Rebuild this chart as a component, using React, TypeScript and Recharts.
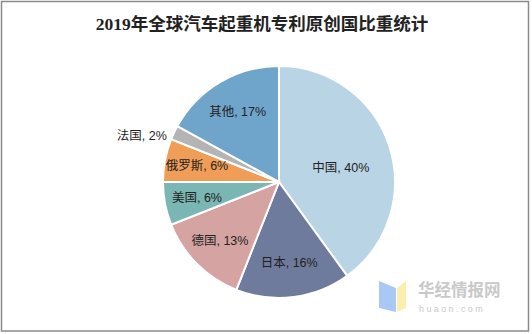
import React from 'react';
import { PieChart, Pie, Cell } from 'recharts';

const categories = ['中国', '日本', '德国', '美国', '俄罗斯', '法国', '其他'];
const shares = [40, 16, 13, 6, 6, 2, 17];
const colors = ['#b9d4e5', '#6f7b9d', '#d6a3a3', '#7ab6b3', '#f09d57', '#b4b4b4', '#6fa5cb'];
const title = '2019年全球汽车起重机专利原创国比重统计';

const data = categories.map((name, i) => ({ name, value: shares[i] }));

const RAD = Math.PI / 180;
const FONT = '"Liberation Sans", "Noto Sans CJK SC", sans-serif';

const renderLabel = (props: any) => {
  const { cx, cy, midAngle, outerRadius, name, value } = props;
  const text = `${name}, ${value}%`;
  if (value < 3) {
    const r = outerRadius + 8;
    const x = cx + r * Math.cos(-midAngle * RAD);
    const y = cy + r * Math.sin(-midAngle * RAD);
    return (
      <text x={x} y={y + 7} textAnchor="end" dominantBaseline="central" fontSize={12.5} fill="#222" fontFamily={FONT}>
        {text}
      </text>
    );
  }
  const f = value > 30 ? 0.56 : value >= 16 ? 0.7 : 0.72;
  const r = outerRadius * f;
  const x = cx + r * Math.cos(-midAngle * RAD);
  const y = cy + r * Math.sin(-midAngle * RAD) + (value > 30 ? 6 : 0);
  return (
    <text x={x} y={y} textAnchor="middle" dominantBaseline="central" fontSize={12.5} fill="#222" fontFamily={FONT}>
      {text}
    </text>
  );
};

export default function App() {
  return (
    <div style={{ position: 'absolute', left: 0, top: 0, width: 532, height: 334, background: '#fff' }}>
      <PieChart width={532} height={334} margin={{ top: 0, right: 0, bottom: 0, left: 0 }}>
        <rect x={1.5} y={1.5} width={527} height={329.5} fill="none" stroke="#8a8a8a" strokeWidth={1.5} />
        <text x={262} y={24} textAnchor="middle" dominantBaseline="central" fontSize={17.5} fontWeight="bold" fill="#222" fontFamily='"Liberation Serif", "Noto Sans CJK SC", serif'>
          {title}
        </text>
        <Pie
          data={data}
          dataKey="value"
          nameKey="name"
          cx={279}
          cy={182}
          outerRadius={116}
          startAngle={90}
          endAngle={-270}
          stroke="#fff"
          strokeWidth={2}
          label={renderLabel}
          labelLine={false}
          isAnimationActive={false}
        >
          {data.map((d, i) => (
            <Cell key={d.name} fill={colors[i]} />
          ))}
        </Pie>
        <polygon points="379,281 396,288 396,312 379,308" fill="#a9c8f5" />
        <polygon points="397,288 406,281 406,308 397,312" fill="#fbefae" />
        <text x={418} y={289} dominantBaseline="central" fontSize={16.5} fontWeight="bold" fill="#c9c9c9" fontFamily='"Noto Sans CJK SC", sans-serif'>
          华经情报网
        </text>
        <text x={419} y={309} dominantBaseline="central" fontSize={9} fill="#c9c9c9" letterSpacing={2.4} fontFamily={FONT}>
          huaon.com
        </text>
      </PieChart>
    </div>
  );
}
